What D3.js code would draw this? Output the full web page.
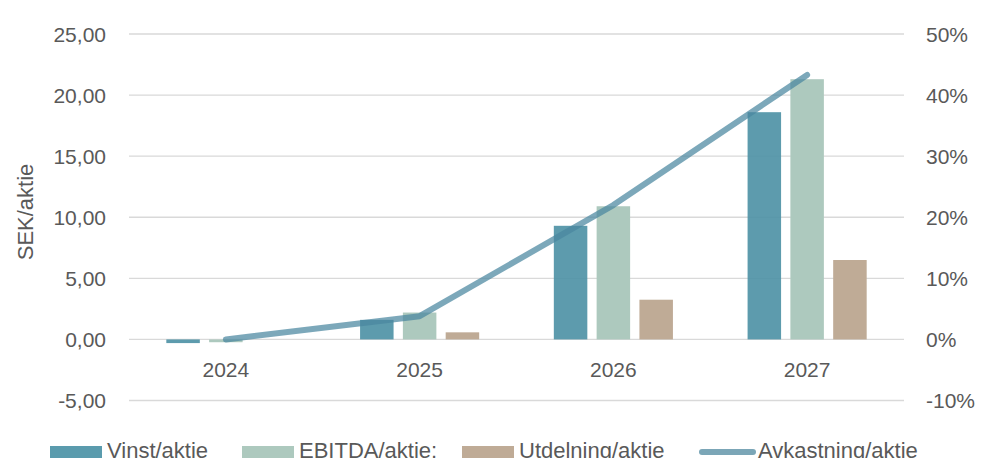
<!DOCTYPE html>
<html>
<head>
<meta charset="utf-8">
<script src="https://cdn.jsdelivr.net/npm/d3@7"></script>
<style>
  body { margin: 0; background: #fff; }
  text { font-family: "Liberation Sans", Arial, sans-serif; fill: #595959; }
</style>
</head>
<body>
<svg id="chart" width="982" height="458"></svg>
<script>
const years = ['2024', '2025', '2026', '2027'];
const vinst = [-0.3, 1.6, 9.3, 18.6];
const ebitda = [-0.23, 2.2, 10.9, 21.3];
const utdelning = [0, 0.58, 3.25, 6.5];
const avkastning = [0, 3.8, 22, 43.3]; // procent, höger axel
const leftTicks = [-5, 0, 5, 10, 15, 20, 25];
const rightTicks = [-10, 0, 10, 20, 30, 40, 50];

const [plotL, plotR, plotT, plotB] = [129, 904, 34, 400.5];
const svg = d3.select('#chart');

const x = d3.scaleBand().domain(years).range([plotL, plotR]);
const yL = d3.scaleLinear().domain([-5, 25]).range([plotB, plotT]);
const yR = d3.scaleLinear().domain([-10, 50]).range([plotB, plotT]);
const fmt = d => d3.format('.2f')(d).replace('.', ',').replace('\u2212', '-');

// rutnät
svg.append('g').selectAll('line').data(leftTicks).join('line')
  .attr('x1', plotL).attr('x2', plotR)
  .attr('y1', d => yL(d)).attr('y2', d => yL(d))
  .attr('stroke', '#d9d9d9').attr('stroke-width', 1.3);

// vänster axel
svg.append('g').selectAll('text').data(leftTicks).join('text')
  .attr('x', 106).attr('y', d => yL(d)).attr('dy', '0.36em')
  .attr('text-anchor', 'end').attr('font-size', 21)
  .text(fmt);

// höger axel
svg.append('g').selectAll('text').data(rightTicks).join('text')
  .attr('x', 926).attr('y', d => yR(d)).attr('dy', '0.36em')
  .attr('font-size', 21)
  .text(d => d + '%');

svg.append('text')
  .attr('transform', `translate(33, 212) rotate(-90)`)
  .attr('text-anchor', 'middle').attr('font-size', 22)
  .text('SEK/aktie');

// staplar
const series = [
  { name: 'Vinst/aktie', values: vinst, color: '#4f93a6', off: -1 },
  { name: 'EBITDA/aktie:', values: ebitda, color: '#adc9be', off: 0 },
  { name: 'Utdelning/aktie', values: utdelning, color: '#bfab96', off: 1 }
];
const step = 42.8, bw = 33.5;
series.forEach(s => {
  svg.append('g').selectAll('rect').data(s.values).join('rect')
    .attr('x', (d, i) => x(years[i]) + x.bandwidth() / 2 + s.off * step - bw / 2)
    .attr('width', bw)
    .attr('y', d => yL(Math.max(0, d)))
    .attr('height', d => Math.abs(yL(d) - yL(0)))
    .attr('fill', s.color)
    .attr('fill-opacity', s.off === -1 ? 0.92 : 1);
});

// x-etiketter
svg.append('g').selectAll('text').data(years).join('text')
  .attr('x', d => x(d) + x.bandwidth() / 2).attr('y', 377)
  .attr('text-anchor', 'middle').attr('font-size', 21)
  .text(d => d);

// avkastningslinje
const line = d3.line()
  .x((d, i) => x(years[i]) + x.bandwidth() / 2)
  .y(d => yR(d));
svg.append('path')
  .datum(avkastning)
  .attr('d', line)
  .attr('fill', 'none')
  .attr('stroke', '#4a87a0').attr('stroke-opacity', 0.72)
  .attr('stroke-width', 6).attr('stroke-linecap', 'round').attr('stroke-linejoin', 'round');

// förklaring
const legend = svg.append('g');
const legItems = [
  { label: 'Vinst/aktie', color: '#5a9bad', sx: 50, tx: 107 },
  { label: 'EBITDA/aktie:', color: '#adc9be', sx: 242, tx: 299 },
  { label: 'Utdelning/aktie', color: '#bfab96', sx: 462, tx: 519 }
];
legItems.forEach(d => {
  legend.append('rect').attr('x', d.sx).attr('y', 446).attr('width', 52).attr('height', 16).attr('fill', d.color);
  legend.append('text').attr('x', d.tx).attr('y', 458).attr('font-size', 22).text(d.label);
});
legend.append('line').attr('x1', 702).attr('x2', 753).attr('y1', 452).attr('y2', 452)
  .attr('stroke', '#7ba6b7').attr('stroke-width', 6).attr('stroke-linecap', 'round');
legend.append('text').attr('x', 758).attr('y', 458).attr('font-size', 22).text('Avkastning/aktie');
</script>
</body>
</html>
